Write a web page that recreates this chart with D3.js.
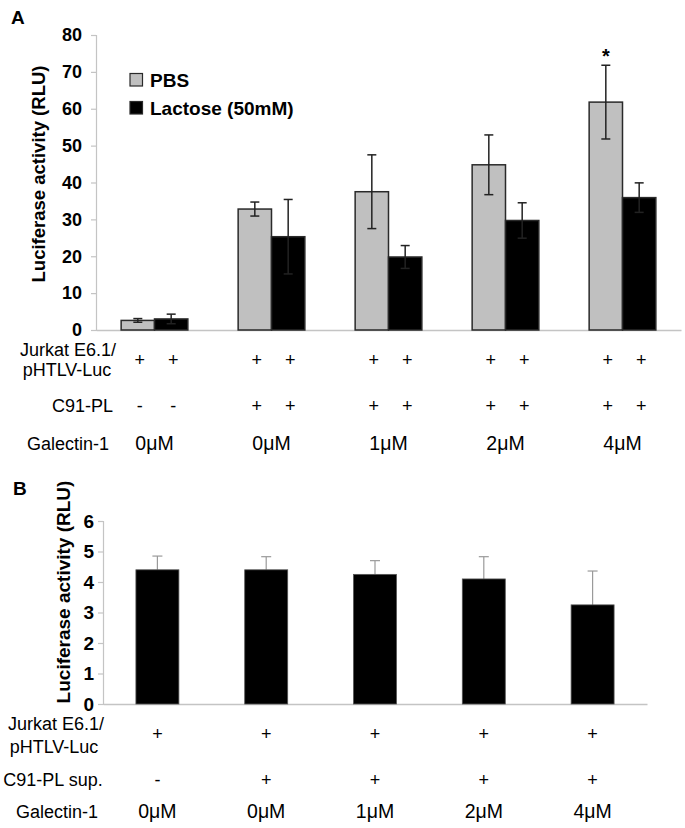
<!DOCTYPE html>
<html>
<head>
<meta charset="utf-8">
<script src="https://cdnjs.cloudflare.com/ajax/libs/d3/7.8.5/d3.min.js"></script>
<style>
  html, body { margin: 0; padding: 0; background: #fff; }
  svg { display: block; font-family: "Liberation Sans", Arial, Helvetica, sans-serif; }
</style>
</head>
<body>
<svg id="chart" width="685" height="828"></svg>
<script>
// ---------------- DATA ----------------
// Panel A
const groupsA = ["g1", "g2", "g3", "g4", "g5"];
const seriesA = ["PBS", "Lactose (50mM)"];
const pbsMean = [2.6, 32.8, 37.5, 44.8, 61.8];
const pbsErr  = [0.5, 1.9, 10.0, 8.1, 10.0];
const lacMean = [3.0, 25.3, 19.8, 29.7, 35.9];
const lacErr  = [1.3, 10.1, 3.1, 4.8, 4.0];
const sigA    = ["", "", "", "", "*"];
const jurkatA = [["+", "+"], ["+", "+"], ["+", "+"], ["+", "+"], ["+", "+"]];
const c91A    = [["-", "-"], ["+", "+"], ["+", "+"], ["+", "+"], ["+", "+"]];
const galectinA = ["0μM", "0μM", "1μM", "2μM", "4μM"];
const yTicksA = [0, 10, 20, 30, 40, 50, 60, 70, 80];

// Panel B
const groupsB = ["b1", "b2", "b3", "b4", "b5"];
const meanB = [4.4, 4.4, 4.25, 4.1, 3.25];
const errB  = [0.45, 0.43, 0.45, 0.73, 1.11];
const jurkatB = ["+", "+", "+", "+", "+"];
const c91B    = ["-", "+", "+", "+", "+"];
const galectinB = ["0μM", "0μM", "1μM", "2μM", "4μM"];
const yTicksB = [0, 1, 2, 3, 4, 5, 6];

const yTitle = "Luciferase activity (RLU)";

// ---------------- DRAW ----------------
const svg = d3.select("#chart");
const axisGrey = "#c4c4c4";
const fsTable = 18;

function txt(g, x, y, s, opts = {}) {
  return g.append("text")
    .attr("x", x).attr("y", y)
    .attr("text-anchor", opts.anchor || "middle")
    .attr("font-size", opts.size || fsTable)
    .attr("font-weight", opts.weight || "normal")
    .attr("fill", "#000")
    .text(s);
}

// ===== Panel A =====
const A = svg.append("g");
const xA0 = d3.scaleBand().domain(groupsA).range([96, 681]);
const xA1 = d3.scaleBand().domain(seriesA).range([0, xA0.bandwidth()]).paddingOuter(0.754).paddingInner(0);
const yA = d3.scaleLinear().domain([0, 80]).range([330, 35]);

txt(A, 11, 24, "A", { anchor: "start", size: 19, weight: "bold" });

// y axis
const yAxisA = d3.axisLeft(yA).tickValues(yTicksA).tickFormat(d3.format("d")).tickSize(5).tickPadding(9);
const gyA = A.append("g").attr("transform", "translate(96,0)").call(yAxisA);
gyA.select(".domain").attr("stroke", axisGrey).attr("stroke-width", 1.2);
gyA.selectAll(".tick line").attr("stroke", axisGrey).attr("stroke-width", 1.2);
gyA.selectAll(".tick text").attr("font-size", 18).attr("font-weight", "bold")
  .attr("fill", "#000").attr("font-family", "Liberation Sans, Arial, sans-serif");

// x baseline
const xAxisA = d3.axisBottom(xA0).tickSize(0).tickFormat("");
const gxA = A.append("g").attr("transform", `translate(0,${yA(0)})`).call(xAxisA);
gxA.select(".domain").attr("stroke", axisGrey).attr("stroke-width", 1.5);

// y title
A.append("text")
  .attr("transform", `translate(38.5,174) rotate(-90)`)
  .attr("text-anchor", "middle").attr("dominant-baseline", "central")
  .attr("font-size", 18.5).attr("font-weight", "bold").text(yTitle);

// bars
const rowsA = groupsA.map((g, i) => ({
  g, i,
  vals: [
    { s: seriesA[0], v: pbsMean[i], e: pbsErr[i] },
    { s: seriesA[1], v: lacMean[i], e: lacErr[i] }
  ]
}));
const gg = A.selectAll(".grp").data(rowsA).join("g")
  .attr("transform", d => `translate(${xA0(d.g)},0)`);
gg.selectAll("rect").data(d => d.vals).join("rect")
  .attr("x", d => xA1(d.s))
  .attr("y", d => yA(d.v))
  .attr("width", xA1.bandwidth())
  .attr("height", d => yA(0) - yA(d.v))
  .attr("fill", d => d.s === seriesA[0] ? "#c0c0c0" : "#000")
  .attr("stroke", "#2a2a2a").attr("stroke-width", 1.5);

// error bars
const eb = gg.selectAll(".eb").data(d => d.vals).join("g").attr("class", "eb");
eb.append("line")
  .attr("x1", d => xA1(d.s) + xA1.bandwidth() / 2).attr("x2", d => xA1(d.s) + xA1.bandwidth() / 2)
  .attr("y1", d => yA(d.v - d.e)).attr("y2", d => yA(d.v + d.e))
  .attr("stroke", "#222").attr("stroke-width", 1.5);
[(d) => d.v + d.e, (d) => d.v - d.e].forEach(f => {
  eb.append("line")
    .attr("x1", d => xA1(d.s) + xA1.bandwidth() / 2 - 4.5).attr("x2", d => xA1(d.s) + xA1.bandwidth() / 2 + 4.5)
    .attr("y1", d => yA(f(d))).attr("y2", d => yA(f(d)))
    .attr("stroke", "#222").attr("stroke-width", 1.5);
});

// significance
gg.append("text")
  .attr("x", d => xA1(seriesA[0]) + xA1.bandwidth() / 2)
  .attr("y", d => yA(d.vals[0].v + d.vals[0].e) - 2)
  .attr("text-anchor", "middle").attr("font-size", 20).attr("font-weight", "bold")
  .text(d => sigA[d.i]);

// legend
const legA = A.append("g");
seriesA.forEach((s, i) => {
  const ly = 80 + i * 28;
  legA.append("rect").attr("x", 130).attr("y", ly - 6.5).attr("width", 12.5).attr("height", 12.5)
    .attr("fill", i === 0 ? "#c0c0c0" : "#000").attr("stroke", "#2a2a2a").attr("stroke-width", 1.2);
  legA.append("text").attr("x", 150).attr("y", ly + 7).attr("font-size", 19)
    .attr("font-weight", "bold").text(s);
});

// table A
const by = (c) => c + fsTable * 0.35;
txt(A, 68, by(350), "Jurkat E6.1/");
txt(A, 67, by(370), "pHTLV-Luc");
txt(A, 113, by(405.7), "C91-PL", { anchor: "end" });
txt(A, 68, by(443.5), "Galectin-1");
groupsA.forEach((g, i) => {
  seriesA.forEach((s, j) => {
    const cx = xA0(g) + xA1(s) + xA1.bandwidth() / 2 + 2;
    txt(A, cx, by(360), jurkatA[i][j]);
    txt(A, cx, by(405.7), c91A[i][j]);
  });
  txt(A, xA0(g) + xA0.bandwidth() / 2, by(443.5), galectinA[i], { size: 19.5 });
});

// ===== Panel B =====
const B = svg.append("g");
const xB = d3.scaleBand().domain(groupsB).range([103, 647]).paddingInner(0.605).paddingOuter(0.3025);
const yB = d3.scaleLinear().domain([0, 6]).range([704, 521]);

txt(B, 13, 495, "B", { anchor: "start", size: 19, weight: "bold" });

const yAxisB = d3.axisLeft(yB).tickValues(yTicksB).tickFormat(d3.format("d")).tickSize(5).tickPadding(4);
const gyB = B.append("g").attr("transform", "translate(103,0)").call(yAxisB);
gyB.select(".domain").attr("stroke", axisGrey).attr("stroke-width", 1.2);
gyB.selectAll(".tick line").attr("stroke", axisGrey).attr("stroke-width", 1.2);
gyB.selectAll(".tick text").attr("font-size", 19).attr("font-weight", "bold")
  .attr("fill", "#000").attr("font-family", "Liberation Sans, Arial, sans-serif");

const gxB = B.append("g").attr("transform", `translate(0,${yB(0)})`)
  .call(d3.axisBottom(xB).tickSize(0).tickFormat(""));
gxB.select(".domain").attr("stroke", axisGrey).attr("stroke-width", 1.5);

B.append("text")
  .attr("transform", `translate(63,592) rotate(-90)`)
  .attr("text-anchor", "middle").attr("dominant-baseline", "central")
  .attr("font-size", 19).attr("font-weight", "bold").text(yTitle);

const rowsB = groupsB.map((g, i) => ({ g, i, v: meanB[i], e: errB[i] }));
// error bars (drawn behind bars, only upper part visible)
B.selectAll(".ebB").data(rowsB).join("line")
  .attr("x1", d => xB(d.g) + xB.bandwidth() / 2).attr("x2", d => xB(d.g) + xB.bandwidth() / 2)
  .attr("y1", d => yB(d.v)).attr("y2", d => yB(d.v + d.e))
  .attr("stroke", "#9a9a9a").attr("stroke-width", 1.2);
B.selectAll(".ebBc").data(rowsB).join("line")
  .attr("x1", d => xB(d.g) + xB.bandwidth() / 2 - 5).attr("x2", d => xB(d.g) + xB.bandwidth() / 2 + 5)
  .attr("y1", d => yB(d.v + d.e)).attr("y2", d => yB(d.v + d.e))
  .attr("stroke", "#9a9a9a").attr("stroke-width", 1.2);
B.selectAll(".barB").data(rowsB).join("rect")
  .attr("x", d => xB(d.g)).attr("y", d => yB(d.v))
  .attr("width", xB.bandwidth()).attr("height", d => yB(0) - yB(d.v))
  .attr("fill", "#000").attr("stroke", "#555").attr("stroke-width", 0.8);

// table B
txt(B, 56, by(723.3), "Jurkat E6.1/");
txt(B, 54, by(746.7), "pHTLV-Luc");
txt(B, 53, by(779.3), "C91-PL sup.");
txt(B, 57, by(812), "Galectin-1");
groupsB.forEach((g, i) => {
  const cx = xB(g) + xB.bandwidth() / 2;
  txt(B, cx, by(733.3), jurkatB[i]);
  txt(B, cx, by(779.3), c91B[i]);
  txt(B, cx, by(812), galectinB[i], { size: 19.5 });
});
</script>
</body>
</html>
